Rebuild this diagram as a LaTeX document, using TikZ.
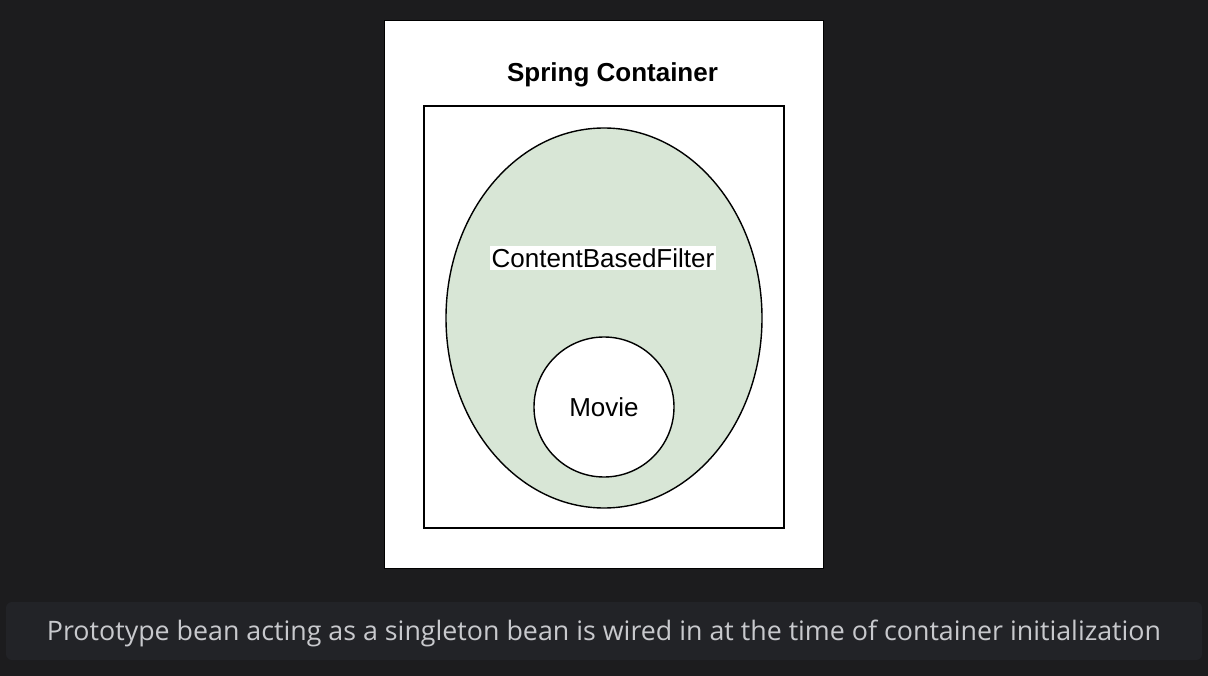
\documentclass[tikz,border=0pt]{standalone}
\usepackage{fontspec}
\setmainfont{Liberation Sans}
\newfontfamily\capfont{Open Sans}
\definecolor{bgdark}{HTML}{1C1C1E}
\definecolor{capbg}{HTML}{222327}
\definecolor{captext}{HTML}{C8C9CD}
\definecolor{beanfill}{HTML}{D8E6D6}
\begin{document}
\begin{tikzpicture}[x=1pt,y=-1pt,
  frame/.style={draw=black,line width=1.8pt,fill=white},
  lbl/.style={font=\fontsize{26}{30}\selectfont,text=black,inner sep=2pt},
]
\fill[bgdark] (0,0) rectangle (1208,676);
\useasboundingbox (0,0) rectangle (1208,676);
% outer container
\node[frame,minimum width=439pt,minimum height=548pt,inner sep=0pt] (outer) at (604,294.5) {};
\node[lbl,font=\bfseries\fontsize{26}{30}\selectfont] (title) at (612.5,75) {Spring Container};
% inner box
\node[frame,minimum width=360pt,minimum height=422pt,inner sep=0pt] (inner) at (604,317) {};
% bean ellipse
\draw[black,line width=1.4pt,fill=beanfill] (604,318) ellipse [x radius=158, y radius=190];
\node[lbl,fill=white] (cbf) at (603,258) {ContentBasedFilter};
% movie circle
\node[draw=black,line width=1.4pt,fill=white,circle,minimum size=140pt,inner sep=0pt,lbl] (movie) at (604,407) {\raisebox{0pt}{Movie}};
% caption bar
\node[fill=capbg,rounded corners=6pt,minimum width=1196pt,minimum height=58pt,inner sep=0pt] (capbar) at (604,631) {};
\node[font=\capfont\fontsize{26.8}{30}\selectfont,text=captext] (cap) at (604,633) {Prototype bean acting as a singleton bean is wired in at the time of container initialization};
\end{tikzpicture}
\end{document}
